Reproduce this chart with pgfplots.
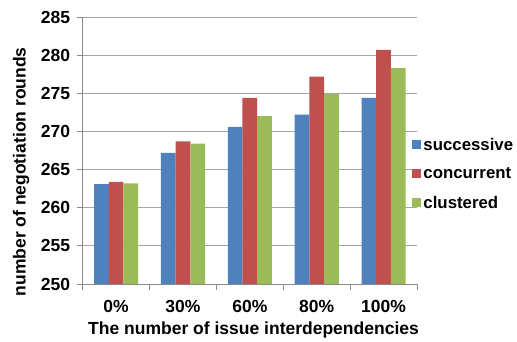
\documentclass[border=0pt]{standalone}
\usepackage{pgfplots}
\pgfplotsset{compat=1.18}
\usepackage{fontspec}
\setmainfont{Liberation Sans}
\definecolor{cblue}{HTML}{4F81BD}
\definecolor{cred}{HTML}{C0504D}
\definecolor{cgreen}{HTML}{9BBB59}
\definecolor{axgray}{HTML}{898989}
\definecolor{gridgray}{HTML}{A6A6A6}
\begin{document}
\begin{tikzpicture}
\useasboundingbox (-82.7pt,-57pt) rectangle (434.3pt,284pt);
\clip (-82.7pt,-57pt) rectangle (434.3pt,284pt);
\begin{axis}[
  at={(0pt,0pt)}, anchor=south west,
  scale only axis, width=334.3pt, height=267pt,
  ybar=0pt, bar width=14.7pt,
  xmin=-0.5, xmax=4.5, ymin=250, ymax=285,
  xtick={0,...,4}, xticklabels={0\%,30\%,60\%,80\%,100\%},
  minor xtick={-0.5,0.5,...,4.5},
  ytick={250,255,...,285},
  axis x line*=bottom, axis y line*=left,
  axis line style={axgray, line width=0.8pt, -},
  ymajorgrids, grid style={gridgray, line width=0.8pt},
  tick align=outside,
  major tick length=6pt, minor tick length=6pt,
  tick style={axgray, line width=0.8pt},
  major x tick style={draw=none},
  /pgf/number format/assume math mode=true,
  tick label style={font=\fontsize{17.5}{19}\selectfont\bfseries},
  yticklabel style={xshift=-3pt},
  xticklabel style={yshift=-7pt},
  xlabel={The number of issue interdependencies},
  xlabel style={at={(axis description cs:0.511,-0.191)}, anchor=base, font=\fontsize{17.5}{20}\selectfont\bfseries},
  ylabel={number of negotiation rounds},
  ylabel style={at={(axis description cs:-0.184,0.42)}, anchor=center, font=\fontsize{17.5}{20}\selectfont\bfseries},
  legend style={at={(0.985,0.413)}, anchor=west, draw=none, fill=none,
    font=\fontsize{16.8}{18}\selectfont\bfseries, row sep=16pt, inner sep=0pt,
    nodes={inner xsep=2pt, inner ysep=0pt}},
  legend cell align=left,
  every axis plot post/.append style={legend image code/.code={\fill[##1] (0pt,-4.6pt) rectangle (9.3pt,4.6pt);}},
]
\addplot[fill=cblue, draw=none] coordinates {(0,263.1) (1,267.2) (2,270.6) (3,272.2) (4,274.4)};
\addplot[fill=cred, draw=none] coordinates {(0,263.4) (1,268.7) (2,274.4) (3,277.2) (4,280.7)};
\addplot[fill=cgreen, draw=none] coordinates {(0,263.2) (1,268.4) (2,272.0) (3,274.9) (4,278.3)};
\legend{successive,concurrent,clustered}
\end{axis}
\end{tikzpicture}
\end{document}
